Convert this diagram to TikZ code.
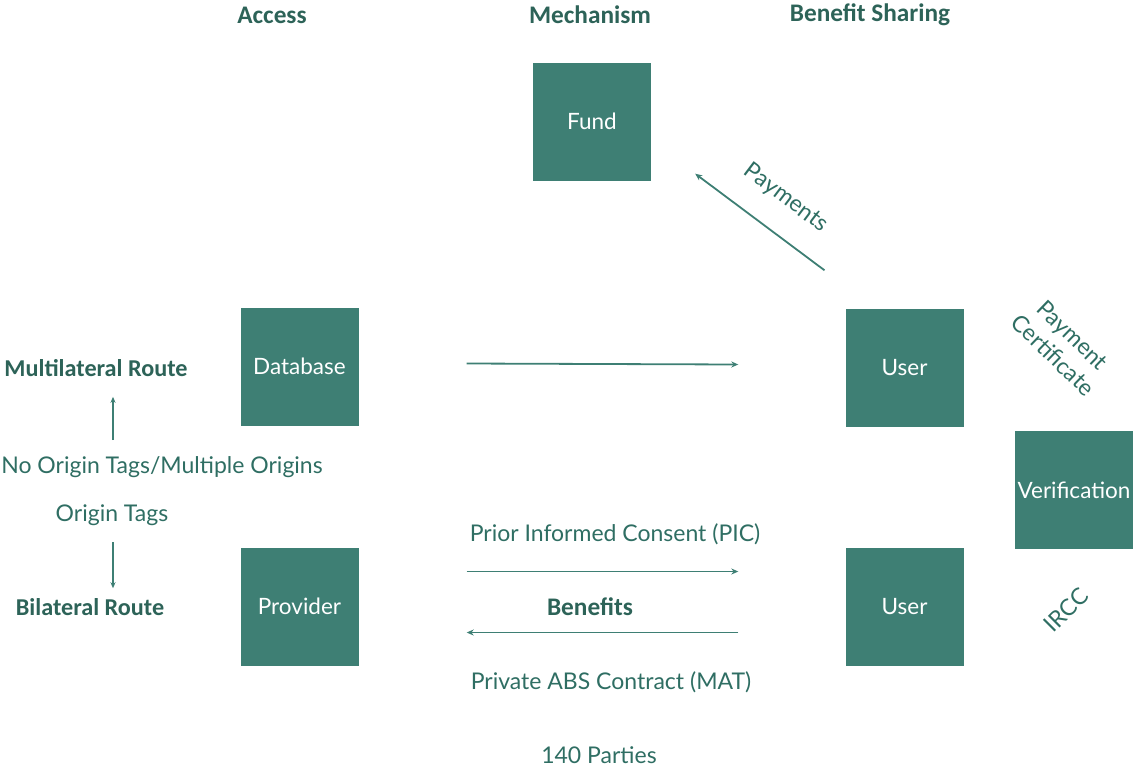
\documentclass[tikz,border=0pt]{standalone}
\usepackage{fontspec}
\setmainfont{Lato}
\newfontfamily\headfont{Carlito}
\usetikzlibrary{positioning,arrows.meta}
\definecolor{boxteal}{HTML}{3E7F74}
\definecolor{textteal}{HTML}{2F6E63}
\definecolor{headteal}{HTML}{2D6358}

\tikzset{
  block/.style={fill=boxteal, minimum width=118pt, minimum height=118pt,
    inner sep=0pt, text=white, font=\fontsize{22.5}{26}\selectfont},
  lbl/.style={text=textteal, inner sep=0pt, font=\fontsize{23}{27}\selectfont},
  head/.style={text=headteal, inner sep=0pt, font=\headfont\bfseries\fontsize{25.3}{29}\selectfont},
  route label/.style={head, font=\headfont\bfseries\fontsize{24.2}{28}\selectfont},
  flow/.style={draw=boxteal, line width=1.8pt, -{Stealth[length=7pt,width=6pt]}},
  route/.style={draw=boxteal, line width=1.2pt, -{Stealth[length=6pt,width=5pt]}},
}

\begin{document}
\begin{tikzpicture}[x=1pt,y=-1pt]
\useasboundingbox (0,0) rectangle (1134,772);

% Boxes
\node[block] (fund)  at (592,121.5)   {Fund};
\node[block] (db)    at (299.5,366.5) {Database};
\node[block] (prov)  at (299.5,606.5) {Provider};
\node[block] (usra)  at (904.5,367.5) {User};
\node[block] (usrb)  at (904.5,606.5) {User};
\node[block] (verif) at (1074,490)    {Verification};

% Column titles
\node[head] (access) at (272,15) {Access};
\node[head] (mech)   at (590,15) {Mechanism};
\node[head] (share)  at (870,15) {Benefit Sharing};

% Routes
\node[route label] (multi) at (96,368) {Multilateral Route};
\node[route label] (bilat) at (90,607) {Bilateral Route};
\node[lbl]  (noorig) at (162,467) {No Origin Tags/Multiple Origins};
\node[lbl]  (orig)   at (112,515) {Origin Tags};
\coordinate (upfoot)  at (113,440);
\coordinate (downtop) at (113,542);

% Labels
\node[lbl, rotate=-37] (pay) at (786,198) {Payments};
\node[lbl, rotate=-44, align=center, font=\fontsize{23}{28}\selectfont] (cert) at (1063,345) {Payment\\Certificate};
\node[lbl, rotate=45] (ircc) at (1066,610) {IRCC};
\node[lbl]  (pic)  at (615,534) {Prior Informed Consent (PIC)};
\node[head] (ben)  at (590,607) {Benefits};
\node[lbl]  (mat)  at (611,682) {Private ABS Contract (MAT)};
\node[lbl]  (parties) at (599,755) {140 Parties};

% Connectors
\draw[flow] ([xshift=108pt,yshift=3pt]db.east) -- ([xshift=-107pt,yshift=3pt]usra.west);
\draw[flow] ([shift={(-80pt,38pt)}]usra.north) -- ([shift={(44pt,7pt)}]fund.south east);
\draw[flow] ([xshift=108pt,yshift=35pt]prov.east) -- ([xshift=-107pt,yshift=35pt]usrb.west);
\draw[flow] ([xshift=-107pt,yshift=-26pt]usrb.west) -- ([xshift=108pt,yshift=-26pt]prov.east);
\draw[route, shorten >=20pt] (upfoot) -- (upfoot |- multi.south);
\draw[route, shorten >=10pt] (downtop) -- (downtop |- bilat.north);

\end{tikzpicture}
\end{document}
